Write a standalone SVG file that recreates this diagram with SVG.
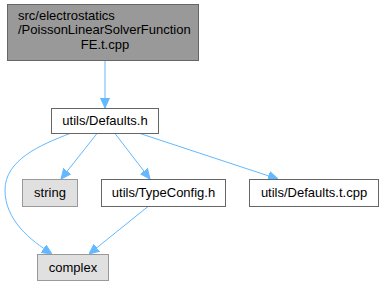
<svg xmlns="http://www.w3.org/2000/svg" width="384" height="285" viewBox="0 0 384 285">
  <style>
    text { font-family: "Liberation Sans", Arial, Helvetica, sans-serif; font-size: 13px; fill: #000000; }
    .main rect { fill: #999999; stroke: #666666; stroke-width: 1; }
    .file rect { fill: #ffffff; stroke: #666666; stroke-width: 1; }
    .sys rect { fill: #e0e0e0; stroke: #999999; stroke-width: 1; }
    .edge { fill: none; stroke: #63b8ff; stroke-width: 1; }
  </style>
  <defs>
    <marker id="arrow" viewBox="0 0 10 10" refX="10" refY="5" markerWidth="10" markerHeight="10" markerUnits="userSpaceOnUse" orient="auto">
      <path d="M0,0.5 L10,5 L0,9.5 z" fill="#63b8ff" stroke="#63b8ff"/>
    </marker>
  </defs>

  <g id="edges">
    <path class="edge" d="M105,60.5 L105,108" marker-end="url(#arrow)"/>
    <path class="edge" d="M97,133.5 L61,179" marker-end="url(#arrow)"/>
    <path class="edge" d="M115,133.5 L150,179" marker-end="url(#arrow)"/>
    <path class="edge" d="M140,133.5 L278,179" marker-end="url(#arrow)"/>
    <path class="edge" d="M70,133.5 C40,145 5,160 5,190 C5,220 30,240 52,254" marker-end="url(#arrow)"/>
    <path class="edge" d="M148,206.5 L89,254" marker-end="url(#arrow)"/>
  </g>

  <g id="node-main" class="main">
    <rect x="7.5" y="4.5" width="191" height="56"/>
    <text x="18" y="19.5">src/electrostatics</text>
    <text x="18" y="34">/PoissonLinearSolverFunction</text>
    <text x="105" y="49" text-anchor="middle">FE.t.cpp</text>
  </g>

  <g id="node-defaults-h" class="file">
    <rect x="51.5" y="108.5" width="107" height="25"/>
    <text x="105" y="125" text-anchor="middle">utils/Defaults.h</text>
  </g>

  <g id="node-string" class="sys">
    <rect x="22.5" y="179.5" width="55" height="27"/>
    <text x="50" y="197" text-anchor="middle">string</text>
  </g>

  <g id="node-typeconfig" class="file">
    <rect x="101.5" y="179.5" width="124" height="27"/>
    <text x="163.5" y="197" text-anchor="middle">utils/TypeConfig.h</text>
  </g>

  <g id="node-defaults-t-cpp" class="file">
    <rect x="249.5" y="179.5" width="129" height="27"/>
    <text x="314" y="197" text-anchor="middle">utils/Defaults.t.cpp</text>
  </g>

  <g id="node-complex" class="sys">
    <rect x="37.5" y="254.5" width="71" height="26"/>
    <text x="73" y="272" text-anchor="middle">complex</text>
  </g>
</svg>
